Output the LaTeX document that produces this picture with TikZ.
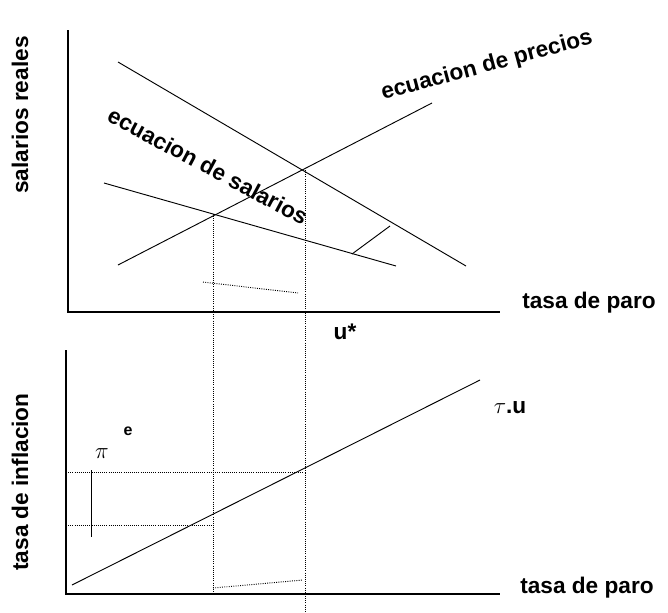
\documentclass[tikz,border=0pt]{standalone}
\usepackage{fontspec}
\setmainfont{Liberation Sans}
\begin{document}
\begin{tikzpicture}[x=0.0264cm,y=-0.0264cm,
  ax/.style={line width=1.2pt},
  ln/.style={line width=0.7pt},
  dt/.style={densely dotted,line width=0.6pt},
  lab/.style={font=\fontsize{17}{19}\selectfont\bfseries,inner sep=0pt}]
\useasboundingbox (0,0) rectangle (668,612);
% top axes
\coordinate (tO) at (68,312);
\draw[ax] (68,30) -- (tO) -- (500,312);
\draw[ln] (118,62) -- (466,266);
\draw[ln] (118,265) -- (432,103);
\draw[ln] (104,183) -- (396,266);
\draw[ln] (352,254) -- (390,226);
\draw[ln,densely dotted] (203,282) -- (298,293);
\draw[dt] (213,214) -- (213,592);
\draw[dt] (305,170) -- (305,612);
\node[lab,rotate=-28] (ws) at (208,166) {ecuacion de salarios};
\node[lab,rotate=15] (ps) at (487,66) {ecuacion de precios};
\node[lab,rotate=90] (sr) at (20,115) {salarios reales};
\node[lab] (tp1) at (589,303) {tasa de paro};
\node[lab] (us) at (345,332) {u*};
% bottom axes
\draw[ax] (66,350) -- (66,594) -- (500,594);
\draw[ln] (72,585) -- (480,380);
\draw[dt] (66,472) -- (305,472);
\draw[dt] (66,525) -- (215,525);
\draw[ln] (91,470) -- (91,537);
\draw[ln,densely dotted] (213,588) -- (303,580);
\node[lab] (pi) at (102,454) {$\pi$};
\node[lab,font=\fontsize{12}{14}\selectfont\bfseries] (th) at (128,431) {e};
\node[lab] (tu) at (510,408) {$\tau$.u};
\node[lab] (tp2) at (587,588) {tasa de paro};
\node[lab,rotate=90] (ti) at (20,482) {tasa de inflacion};
\end{tikzpicture}
\end{document}
